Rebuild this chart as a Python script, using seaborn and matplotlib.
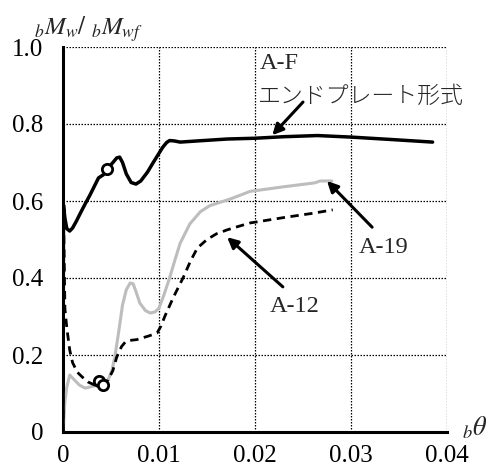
import matplotlib
matplotlib.use("Agg")
import matplotlib.pyplot as plt
import seaborn as sns
import pandas as pd

# ---- data ----
af_x = [0.0, 0.00005, 0.0002, 0.0004, 0.0007, 0.0010, 0.0014, 0.0018, 0.0023, 0.0028, 0.0033,
        0.0037, 0.0042, 0.0047, 0.0052, 0.0056, 0.0059, 0.0062, 0.0066, 0.0071, 0.0076,
        0.0081, 0.0088, 0.0094, 0.0099, 0.0104, 0.0108, 0.0111, 0.0116, 0.0122, 0.0140,
        0.0171, 0.0200, 0.0230, 0.0265, 0.0300, 0.0340, 0.0385]
af_y = [0.0, 0.59, 0.555, 0.528, 0.522, 0.530, 0.548, 0.568, 0.592, 0.615, 0.640,
        0.660, 0.668, 0.686, 0.700, 0.712, 0.714, 0.700, 0.670, 0.648, 0.644,
        0.652, 0.675, 0.700, 0.720, 0.740, 0.752, 0.757, 0.756, 0.753, 0.756,
        0.761, 0.763, 0.767, 0.770, 0.766, 0.760, 0.753]

a19_x = [0.0, 0.0002, 0.0004, 0.0007, 0.0012, 0.0017, 0.0023, 0.0030, 0.0036, 0.0042, 0.0047,
         0.0051, 0.0054, 0.0058, 0.0062, 0.0066, 0.0070, 0.0073, 0.0076, 0.0080, 0.0086,
         0.0091, 0.0096, 0.0100, 0.0105, 0.0111, 0.0117, 0.0122, 0.0132, 0.0143, 0.0153,
         0.0174, 0.0195, 0.0230, 0.0262, 0.0268, 0.0280]
a19_y = [0.0, 0.08, 0.117, 0.148, 0.135, 0.122, 0.114, 0.118, 0.122, 0.125, 0.135,
         0.160, 0.195, 0.260, 0.330, 0.370, 0.387, 0.385, 0.365, 0.335, 0.315,
         0.309, 0.312, 0.322, 0.355, 0.400, 0.450, 0.490, 0.540, 0.572, 0.588,
         0.605, 0.625, 0.637, 0.647, 0.652, 0.652]

a12_x = [0.0, 0.00005, 0.0002, 0.0004, 0.0007, 0.0010, 0.0015, 0.0020, 0.0026, 0.0033, 0.0040,
         0.0047, 0.0052, 0.0056, 0.0061, 0.0065, 0.0070, 0.0077, 0.0090, 0.0098, 0.0102,
         0.0106, 0.0115, 0.0125, 0.0133, 0.0140, 0.0150, 0.0160, 0.0171, 0.0180, 0.0195,
         0.0230, 0.0260, 0.0281]
a12_y = [0.0, 0.58, 0.32, 0.27, 0.213, 0.18, 0.155, 0.143, 0.13, 0.122, 0.125,
         0.135, 0.160, 0.195, 0.222, 0.234, 0.238, 0.240, 0.250, 0.257, 0.275,
         0.300, 0.350, 0.400, 0.445, 0.478, 0.500, 0.515, 0.525, 0.532, 0.543,
         0.557, 0.568, 0.577]

circle_x = [0.0046, 0.0038, 0.0042]
circle_y = [0.684, 0.133, 0.122]

x_ticks = [0, 0.01, 0.02, 0.03, 0.04]
x_tick_labels = ["0", "0.01", "0.02", "0.03", "0.04"]
y_ticks = [0, 0.2, 0.4, 0.6, 0.8, 1.0]
y_tick_labels = ["0", "0.2", "0.4", "0.6", "0.8", "1.0"]

# ---- styling ----
sns.set_theme(style="white")
plt.rcParams["font.family"] = ["Liberation Serif", "Noto Sans CJK JP", "DejaVu Sans"]
plt.rcParams["mathtext.fontset"] = "stix"

fig = plt.figure(figsize=(4.94, 4.75), dpi=100)
ax = fig.add_axes([63/494, 1-432/475, (447-63)/494, (432-47)/475])

df_af = pd.DataFrame({"x": af_x, "y": af_y})
df_19 = pd.DataFrame({"x": a19_x, "y": a19_y})
df_12 = pd.DataFrame({"x": a12_x, "y": a12_y})

sns.lineplot(data=df_19, x="x", y="y", sort=False, ax=ax, color="#bdbdbd", lw=2.2, zorder=3)
sns.lineplot(data=df_12, x="x", y="y", sort=False, ax=ax, color="black", lw=2.0,
             linestyle=(0, (3, 2)), zorder=4)
sns.lineplot(data=df_af, x="x", y="y", sort=False, ax=ax, color="black", lw=2.5, zorder=5)
sns.scatterplot(x=circle_x, y=circle_y, ax=ax, s=55, facecolor="white",
                edgecolor="black", linewidth=2.0, zorder=6)

ax.set_xlim(0, 0.04)
ax.set_ylim(0, 1.0)
ax.set_xticks(x_ticks)
ax.set_xticklabels(x_tick_labels)
ax.set_yticks(y_ticks)
ax.set_yticklabels(y_tick_labels)
ax.set_xlabel("")
ax.set_ylabel("")

ax.grid(True, color="black", linestyle=(0, (1.2, 1.2)), linewidth=0.9)
for s in ["top", "right"]:
    ax.spines[s].set_visible(False)
for s in ["left", "bottom"]:
    ax.spines[s].set_color("black")
    ax.spines[s].set_linewidth(2.2)
ax.tick_params(axis="both", direction="in", length=6, width=2.2, colors="black",
               labelsize=18)
ax.tick_params(axis="y", pad=14)
ax.tick_params(axis="x", pad=9)

fs = 17.5
ax.text(0.0205, 0.958, "A-F", fontsize=fs, va="center", ha="left")
ax.text(0.0203, 0.872, "エンドプレート形式", fontsize=16.5, va="center", ha="left",
        family=["Noto Sans CJK JP"], fontweight="light")
ax.text(0.0308, 0.478, "A-19", fontsize=fs, va="center", ha="left")
ax.text(0.0215, 0.325, "A-12", fontsize=fs, va="center", ha="left")

arrow = dict(arrowstyle="-|>", color="black", lw=2.2, mutation_scale=16, shrinkA=0, shrinkB=0)
ax.annotate("", xy=(0.0218, 0.771), xytext=(0.0250, 0.857), arrowprops=arrow)
ax.annotate("", xy=(0.0275, 0.652), xytext=(0.0322, 0.532), arrowprops=arrow)
ax.annotate("", xy=(0.0171, 0.506), xytext=(0.0229, 0.377), arrowprops=arrow)

fig.text(34/494, 1-29/475, r"${}_{b}M_{w}/\ {}_{b}M_{wf}$", fontsize=18, va="center", ha="left")
fig.text(462/494, 1-428/475, r"${}_{b}\theta$", fontsize=19, va="center", ha="left")

fig.savefig("out.png", dpi=100)
